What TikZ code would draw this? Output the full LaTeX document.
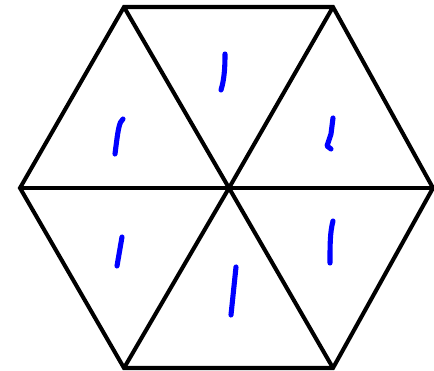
\documentclass[tikz,border=0pt]{standalone}
\usetikzlibrary{calc}

\begin{document}
\begin{tikzpicture}[x=0.02cm, y=-0.02cm,
    edge/.style={line width=2.3pt, line join=miter},
    mark1/.style={blue, line width=2.9pt, line cap=round, line join=round}]
  \useasboundingbox (0,0) rectangle (434,371);

  % Corners of the hexagon
  \coordinate (tl) at (124,7);
  \coordinate (tr) at (333,7);
  \coordinate (r) at (433,188);
  \coordinate (br) at (333,368);
  \coordinate (bl) at (124,368);
  \coordinate (l) at (20,188);
  \coordinate (c) at (229,188);

  % Outline and diagonals
  \draw[edge] (tl) -- (tr) -- (r) -- (br) -- (bl) -- (l) -- cycle;
  \draw[edge] (tl) -- (c) -- (br);
  \draw[edge] (tr) -- (c) -- (bl);
  \draw[edge] (l) -- (r);

  % Hand-written ones
  \draw[mark1] (225,54) .. controls (225,70) and (224,80) .. (221,90);
  \draw[mark1] (123,119) .. controls (119,122) and (118,130) .. (115,154);
  \draw[mark1] (333,118) -- (331,134) -- (327,146) -- (331,149);
  \draw[mark1] (122,237) -- (117,266);
  \draw[mark1] (333,221) .. controls (330,232) and (330,245) .. (330,263);
  \draw[mark1] (236,267) -- (231,315);
\end{tikzpicture}
\end{document}
